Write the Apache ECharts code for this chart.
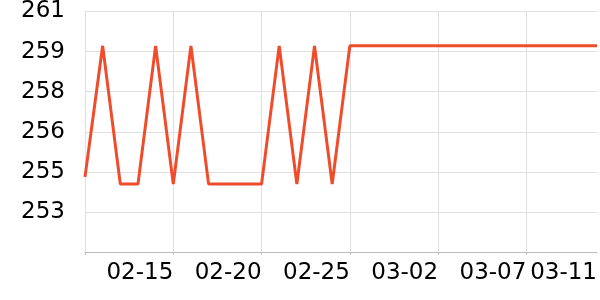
<!DOCTYPE html>
<html>
<head>
<meta charset="utf-8">
<script src="https://cdn.jsdelivr.net/npm/echarts@6/dist/echarts.min.js"></script>
<style>html,body{margin:0;padding:0;background:#fff;overflow:hidden}#c{width:600px;height:300px}</style>
</head>
<body>
<div id="c"></div>
<script>
var dates = ['02-10','02-11','02-12','02-13','02-14','02-15','02-16','02-17','02-18','02-19',
             '02-20','02-21','02-22','02-23','02-24','02-25','02-26','02-27','02-28','03-01',
             '03-02','03-03','03-04','03-05','03-06','03-07','03-08','03-09','03-10','03-11'];
var values = [254.4, 259.63, 254.11, 254.11, 259.63, 254.11, 259.63, 254.11, 254.11, 254.11,
              254.11, 259.63, 254.11, 259.63, 254.11, 259.63, 259.63, 259.63, 259.63, 259.63,
              259.63, 259.63, 259.63, 259.63, 259.63, 259.63, 259.63, 259.63, 259.63, 259.63];
var yMin = 251.4, yMax = 261, yStep = 1.6;

var chart = echarts.init(document.getElementById('c'), null, {renderer: 'canvas', width: 600, height: 300});
var lastIdx = dates.length - 1;
chart.setOption({
  animation: false,
  grid: {left: 85, right: 0, top: 10, bottom: 48, containLabel: false},
  xAxis: {
    type: 'category',
    data: dates,
    boundaryGap: false,
    axisLine: {show: true, lineStyle: {color: '#bbbbbb', width: 1}},
    axisTick: {show: true, length: 3, interval: function (i) { return i % 5 === 0; }, lineStyle: {color: '#bbbbbb'}},
    splitLine: {show: true, interval: function (i) { return i % 5 === 0; }, lineStyle: {color: '#e0e0e0', width: 1}},
    axisLabel: {
      interval: function (i) { return i !== 0 && (i % 5 === 0 || i === lastIdx); },
      align: 'right',
      margin: 10,
      color: '#000',
      fontSize: 23,
      fontFamily: 'DejaVu Sans'
    }
  },
  yAxis: {
    type: 'value',
    min: yMin,
    max: yMax,
    interval: yStep,
    axisLine: {show: true, lineStyle: {color: '#e0e0e0'}},
    axisTick: {show: false},
    splitLine: {show: true, lineStyle: {color: '#e0e0e0', width: 1}},
    axisLabel: {
      showMinLabel: false,
      margin: 20,
      color: '#000',
      fontSize: 23,
      fontFamily: 'DejaVu Sans',
      formatter: function (v) { return String(Math.round(v)); }
    }
  },
  series: [{
    type: 'line',
    data: values,
    showSymbol: false,
    symbol: 'none',
    lineStyle: {color: '#f04c2c', width: 3},
    itemStyle: {color: '#f04c2c'}
  }]
});
</script>
</body>
</html>
